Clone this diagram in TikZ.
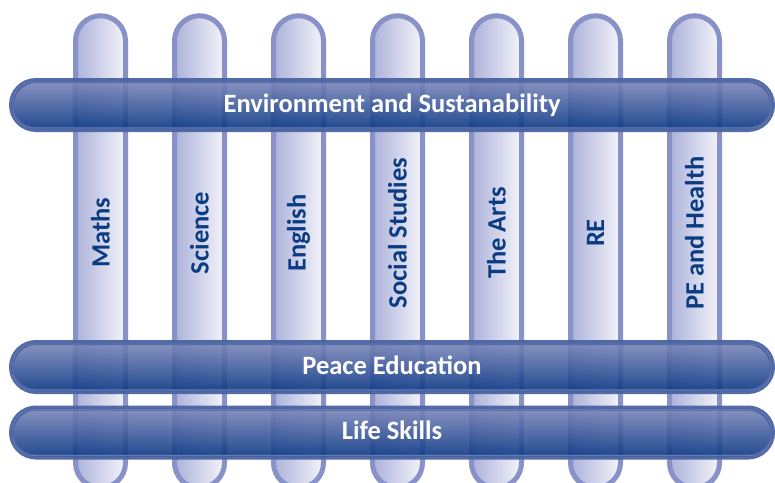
\documentclass[tikz,border=0pt]{standalone}
\usepackage{fontspec}
\setmainfont{Carlito}
\definecolor{pillarline}{HTML}{8891C8}
\definecolor{pillarL}{HTML}{ACB2DA}
\definecolor{pillarR}{HTML}{F4F4FA}
\definecolor{barline}{HTML}{4A64A2}
\definecolor{barT}{HTML}{7D87BA}
\definecolor{barB}{HTML}{083683}
\definecolor{barhl}{HTML}{8C98C8}
\definecolor{subtext}{HTML}{0B3C82}
\begin{document}
\begin{tikzpicture}[x=1pt,y=-1pt,
  pillar/.style={draw=pillarline, line width=5pt, left color=pillarL, right color=pillarR,
    rounded corners=25pt, minimum width=50pt, minimum height=472pt, inner sep=0pt},
  bar/.style={draw=barline, line width=5pt, top color=barT, bottom color=barB,
    rounded corners=24.4pt, minimum width=761pt, minimum height=49pt, inner sep=0pt,
    fill opacity=0.9, draw opacity=0.95, text opacity=1,
    font=\bfseries\fontsize{26.5}{30}\selectfont, text=white},
  barhlstyle/.style={draw=barhl, line width=0.7pt, draw opacity=0.45, rounded corners=20pt},
  sublabel/.style={rotate=90, inner sep=0pt, text=subtext,
    font=\bfseries\fontsize{26.5}{30}\selectfont}]
\useasboundingbox (0,0) rectangle (775,482);
\clip (0,0) rectangle (775,482);
% pillars
\foreach \i in {0,...,6}{
  \node[pillar] (p\i) at ({100.5+99*\i},251.75) {};
}
% subject labels
\node[sublabel] (l0) at (100.5,233) {Maths};
\node[sublabel] (l1) at (199.5,233) {Science};
\node[sublabel] (l2) at (298.5,233) {English};
\node[sublabel] (l3) at (397.5,233) {Social Studies};
\node[sublabel] (l4) at (496.5,233) {The Arts};
\node[sublabel] (l5) at (595.5,233) {RE};
\node[sublabel] (l6) at (694.5,233) {PE and Health};
% bars
\node[bar] (env) at (392,105) {\raisebox{1.5pt}{Environment and Sustanability}};
\node[bar] (peace) at (392,367) {\raisebox{3pt}{Peace Education}};
\node[bar] (life) at (392,432.5) {\raisebox{4pt}{Life Skills}};
\foreach \b in {env,peace,life}{
  \draw[barhlstyle] ([shift={(4,4)}]\b.north west) rectangle ([shift={(-4,-4)}]\b.south east);
}
\end{tikzpicture}
\end{document}
